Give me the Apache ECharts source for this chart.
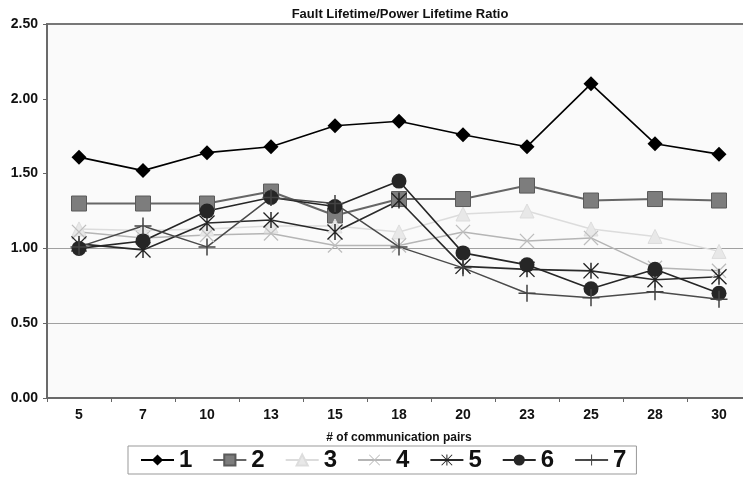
<!DOCTYPE html>
<html>
<head>
<meta charset="utf-8">
<script src="https://cdn.jsdelivr.net/npm/echarts@6/dist/echarts.min.js"></script>
<style>
  html, body { margin: 0; padding: 0; background: #ffffff; }
  #chart { width: 743px; height: 483px; }
</style>
</head>
<body>
<div id="chart"></div>
<script>
// Number of communication pairs (x categories)
const pairs = ['5', '7', '10', '13', '15', '18', '20', '23', '25', '28', '30'];
const yTicks = [0, 0.5, 1.0, 1.5, 2.0, 2.5];

// Fault lifetime / power lifetime ratio for each configuration
const s1 = [1.61, 1.52, 1.64, 1.68, 1.82, 1.85, 1.76, 1.68, 2.10, 1.70, 1.63];
const s2 = [1.30, 1.30, 1.30, 1.38, 1.22, 1.33, 1.33, 1.42, 1.32, 1.33, 1.32];
const s3 = [1.13, 1.12, 1.13, 1.15, 1.15, 1.11, 1.23, 1.25, 1.13, 1.08, 0.98];
const s4 = [1.11, 1.07, 1.09, 1.10, 1.02, 1.02, 1.11, 1.05, 1.07, 0.87, 0.85];
const s5 = [1.03, 0.99, 1.17, 1.19, 1.11, 1.32, 0.88, 0.86, 0.85, 0.79, 0.81];
const s6 = [1.00, 1.05, 1.25, 1.34, 1.28, 1.45, 0.97, 0.89, 0.73, 0.86, 0.70];
const s7 = [1.01, 1.15, 1.01, 1.34, 1.30, 1.01, 0.87, 0.70, 0.67, 0.71, 0.66];

// Stroke-like marker shapes built from thin filled bars
const PLUS = 'path://M9.1,0 h1.8 v20 h-1.8 Z M0,9.1 h20 v1.8 h-20 Z';
const CROSS = 'path://M0,1.2 L1.2,0 L20,18.8 L18.8,20 Z M18.8,0 L20,1.2 L1.2,20 L0,18.8 Z';
const STAR = 'path://M0,1.2 L1.2,0 L20,18.8 L18.8,20 Z M18.8,0 L20,1.2 L1.2,20 L0,18.8 Z M9.1,0 h1.8 v20 h-1.8 Z';

const FONT = 'Liberation Sans Narrow, Liberation Sans, Arial';

function mk(name, data, symbol, size, color, lineColor, width, border) {
  return {
    name: name,
    type: 'line',
    data: data,
    symbol: symbol,
    symbolSize: size,
    showAllSymbol: true,
    animation: false,
    lineStyle: { color: lineColor, width: width },
    itemStyle: { color: color, borderColor: border || color, borderWidth: border ? 1 : 0, opacity: 1 },
    emphasis: { disabled: true }
  };
}

const chart = echarts.init(document.getElementById('chart'), null, { renderer: 'canvas' });
chart.setOption({
  backgroundColor: '#ffffff',
  animation: false,
  title: {
    text: 'Fault Lifetime/Power Lifetime Ratio',
    left: 395,
    textAlign: 'center',
    top: 3,
    textStyle: { fontFamily: FONT, fontWeight: 'bold', fontSize: 13, color: '#111' }
  },
  grid: {
    show: true,
    left: 47, top: 24, width: 704, height: 374,
    outerBoundsMode: 'none',
    containLabel: false,
    backgroundColor: '#fafafa',
    borderColor: '#777',
    borderWidth: 2
  },
  legend: {
    left: 128, top: 446,
    padding: [2, 10, 2, 12],
    itemGap: 20,
    itemWidth: 33,
    itemHeight: 14,
    borderColor: '#999',
    borderWidth: 1,
    backgroundColor: '#ffffff',
    textStyle: { fontFamily: FONT, fontWeight: 'bold', fontSize: 24, color: '#111' },
    data: ['1', '2', '3', '4', '5', '6', '7']
  },
  xAxis: {
    type: 'category',
    data: pairs,
    boundaryGap: true,
    name: '# of communication pairs',
    nameLocation: 'middle',
    nameGap: 34,
    nameTextStyle: { fontFamily: FONT, fontWeight: 'bold', fontSize: 12, color: '#111' },
    axisLine: { lineStyle: { color: '#666', width: 1.5 } },
    axisTick: { show: true, length: 4, lineStyle: { color: '#666' } },
    axisLabel: { margin: 10, fontFamily: FONT, fontWeight: 'bold', fontSize: 14, color: '#111' },
    splitLine: { show: false }
  },
  yAxis: {
    type: 'value',
    min: yTicks[0],
    max: yTicks[yTicks.length - 1],
    interval: 0.5,
    axisLine: { show: true, lineStyle: { color: '#666', width: 1.5 } },
    axisTick: { show: true, length: 4, lineStyle: { color: '#666' } },
    axisLabel: {
      margin: 9,
      fontFamily: FONT, fontWeight: 'bold', fontSize: 14, color: '#111',
      formatter: v => v.toFixed(2)
    },
    splitLine: {
      show: true,
      lineStyle: { color: ['rgba(0,0,0,0)', '#a0a0a0', '#a0a0a0', 'rgba(0,0,0,0)', 'rgba(0,0,0,0)', 'rgba(0,0,0,0)'], width: 1.2 }
    }
  },
  series: [
    mk('1', s1, 'diamond', 15, '#000000', '#000000', 1.6),
    mk('2', s2, 'rect', 15, '#7d7d7d', '#666666', 2, '#5a5a5a'),
    mk('3', s3, 'triangle', 14, '#e8e8e8', '#dcdcdc', 1.5, '#dddddd'),
    mk('4', s4, CROSS, 15, '#bdbdbd', '#b5b5b5', 1.5),
    mk('5', s5, STAR, 16, '#222222', '#2a2a2a', 1.6),
    mk('6', s6, 'circle', 15, '#262626', '#262626', 1.6),
    mk('7', s7, PLUS, 17, '#444444', '#4a4a4a', 1.5)
  ]
});
</script>
</body>
</html>
